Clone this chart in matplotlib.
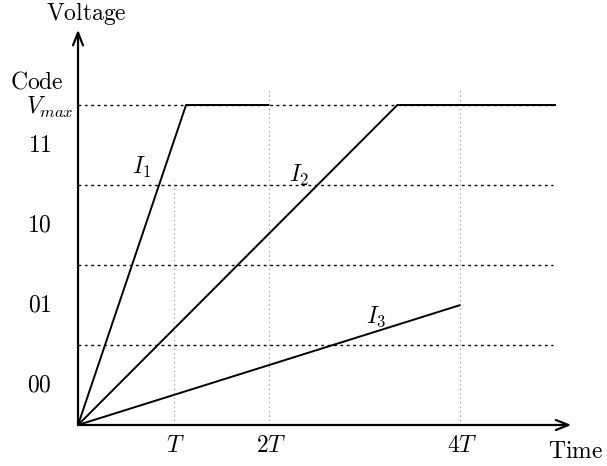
import matplotlib
matplotlib.use('Agg')
import matplotlib.pyplot as plt

plt.rcParams['mathtext.fontset'] = 'cm'
plt.rcParams['font.family'] = 'serif'
plt.rcParams['font.serif'] = ['DejaVu Serif']

# data (time in units of T, voltage in code steps)
levels = [1, 2, 3, 4]
level_end = 4.97
code_labels = ['00', '01', '10', '11']
code_pos = [0.5, 1.5, 2.5, 3.5]
t_ticks = [1, 2, 4]
t_labels = [r'$T$', r'$2T$', r'$4T$']
guide_tops = [3.06, 4.19, 4.19]

t1 = [0, 1.13, 2.0]
v1 = [0, 4, 4]
t2 = [0, 3.34, 5.0]
v2 = [0, 4, 4]
t3 = [0, 4.0]
v3 = [0, 1.5]

fs = 17

fig = plt.figure(figsize=(6.07, 4.66), dpi=100)
ax = fig.add_axes([0, 0, 1, 1])
ax.set_xlim(-0.816, 5.533)
ax.set_ylim(-0.5125, 5.3125)
ax.axis('off')

# dotted guides
for lv in levels:
    ax.plot([0, level_end], [lv, lv], color='black', lw=1.0,
            linestyle=(0, (2, 2.6)), zorder=1)
for tk, top in zip(t_ticks, guide_tops):
    ax.plot([tk, tk], [0, top], color='0.55', lw=0.8,
            linestyle=(0, (1, 3)), zorder=1)

# ramps
for t, v in [(t1, v1), (t2, v2), (t3, v3)]:
    ax.plot(t, v, color='black', lw=1.4, solid_capstyle='butt', zorder=3)

# axes with arrows
ax.annotate('', xy=(5.16, 0), xytext=(0, 0),
            arrowprops=dict(arrowstyle='->,head_length=0.5,head_width=0.2',
                            lw=1.6, color='black',
                            shrinkA=0, shrinkB=0, mutation_scale=18))
ax.annotate('', xy=(0, 4.94), xytext=(0, 0),
            arrowprops=dict(arrowstyle='->,head_length=0.5,head_width=0.2',
                            lw=1.6, color='black',
                            shrinkA=0, shrinkB=0, mutation_scale=18))

# labels
ax.text(0.09, 5.14, r'$\mathrm{Voltage}$', fontsize=fs, ha='center', va='center')
ax.text(-0.43, 4.29, r'$\mathrm{Code}$', fontsize=fs, ha='center', va='center')
ax.text(-0.05, 3.97, r'$V_{max}$', fontsize=fs, ha='right', va='center')
for lab, y in zip(code_labels, code_pos):
    ax.text(-0.40, y, r'$\mathrm{%s}$' % lab, fontsize=fs, ha='center', va='center')
for tk, lab in zip(t_ticks, t_labels):
    ax.text(tk + 0.02, -0.25, lab, fontsize=fs, ha='center', va='center')
ax.text(4.92, -0.33, r'$\mathrm{Time}$', fontsize=fs, ha='left', va='center')

ax.text(0.67, 3.22, r'$I_1$', fontsize=fs, ha='center', va='center')
ax.text(2.31, 3.12, r'$I_2$', fontsize=fs, ha='center', va='center')
ax.text(3.12, 1.35, r'$I_3$', fontsize=fs, ha='center', va='center')

fig.savefig('out.png', dpi=100)
